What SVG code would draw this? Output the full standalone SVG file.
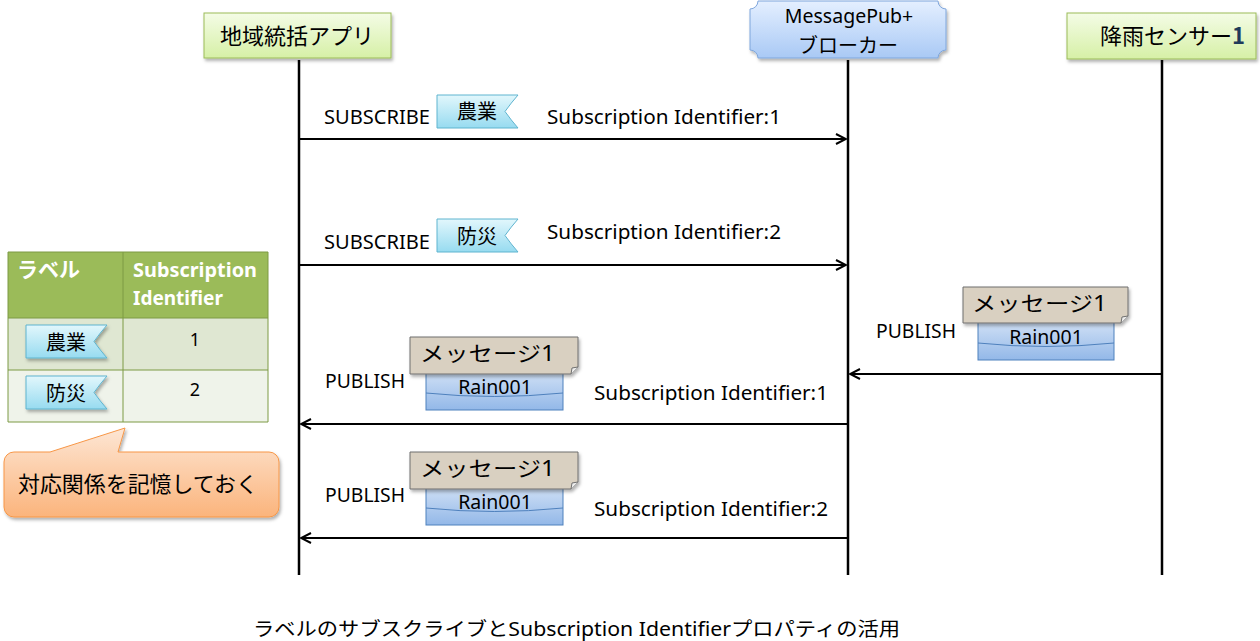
<svg xmlns="http://www.w3.org/2000/svg" width="1260" height="641" viewBox="0 0 1260 641">
<defs>
  <linearGradient id="gGreen" x1="0" y1="0" x2="0" y2="1"><stop offset="0" stop-color="#f4fce6"/><stop offset="1" stop-color="#d6f0a6"/></linearGradient>
  <linearGradient id="gBlue" x1="0" y1="0" x2="0" y2="1"><stop offset="0" stop-color="#e4efff"/><stop offset="1" stop-color="#a9c9f5"/></linearGradient>
  <linearGradient id="gTag" x1="0" y1="0" x2="0" y2="1"><stop offset="0" stop-color="#e2f7fc"/><stop offset="1" stop-color="#97dbf0"/></linearGradient>
  <linearGradient id="gMsg" x1="0" y1="0" x2="0" y2="1"><stop offset="0" stop-color="#d3e2f6"/><stop offset="1" stop-color="#93b8e8"/></linearGradient>
  <linearGradient id="gOrange" x1="0" y1="0" x2="0" y2="1"><stop offset="0" stop-color="#fde6d4"/><stop offset="1" stop-color="#fbb47c"/></linearGradient>
  <filter id="sh" x="-10%" y="-10%" width="120%" height="140%"><feDropShadow dx="1.5" dy="2.5" stdDeviation="1.5" flood-color="#000" flood-opacity="0.3"/></filter>
  <marker id="ah" viewBox="0 0 12 12" refX="11" refY="6" markerWidth="12" markerHeight="12" markerUnits="userSpaceOnUse" orient="auto">
    <path d="M1,1 L11,6 L1,11" fill="none" stroke="#000" stroke-width="2"/>
  </marker>
  <g id="tagShape"><path d="M0,0 H81 Q74,8 68,16.5 Q74,25 81,33 H0 Z" fill="url(#gTag)" stroke="#5fb4cf" stroke-width="1"/></g>
</defs>
<style>
  text{font-family:"Noto Sans","Noto Sans CJK JP",sans-serif;fill:#000}
  .jp{font-family:"Noto Sans CJK JP",sans-serif}
  .life{stroke:#000;stroke-width:2.5}
  .conn{stroke:#000;stroke-width:2.2;fill:none}
  .lbl{font-size:19px}
  .msgtop{fill:#d9d0c1;stroke:#6f6f6f;stroke-width:1}
  .msgbot{fill:url(#gMsg);stroke:#4f81bd;stroke-width:1}
  .wh{fill:#fff}
</style>
<rect width="1260" height="641" fill="#fff"/>

<g id="lifelines">
  <line class="life" x1="299" y1="60" x2="299" y2="575"/>
  <line class="life" x1="848" y1="60" x2="848" y2="575"/>
  <line class="life" x1="1162" y1="60" x2="1162" y2="575"/>
</g>

<g id="node-app">
  <rect x="204" y="13" width="187" height="45" fill="url(#gGreen)" stroke="#9bbb59" stroke-width="1" filter="url(#sh)"/>
  <text class="jp" x="297" y="44" font-size="22" text-anchor="middle">地域統括アプリ</text>
</g>
<g id="node-broker">
  <path d="M758,1 H938 A8,8 0 0 0 946,9 V50 A8,8 0 0 0 938,58 H758 A8,8 0 0 0 750,50 V9 A8,8 0 0 0 758,1 Z" fill="url(#gBlue)" stroke="#7fa6dc" stroke-width="1" filter="url(#sh)"/>
  <text x="849" y="23" font-size="19.5" text-anchor="middle">MessagePub+</text>
  <text class="jp" x="848" y="53" font-size="20" text-anchor="middle">ブローカー</text>
</g>
<g id="node-sensor">
  <rect x="1067" y="13" width="189" height="46" fill="url(#gGreen)" stroke="#9bbb59" stroke-width="1" filter="url(#sh)"/>
  <text class="jp" x="1100" y="44" font-size="22">降雨センサー<tspan font-weight="bold" fill="#1f3a5a">1</tspan></text>
</g>

<g id="connectors">
  <line class="conn" x1="299" y1="139" x2="846" y2="139" marker-end="url(#ah)"/>
  <line class="conn" x1="299" y1="265" x2="846" y2="265" marker-end="url(#ah)"/>
  <line class="conn" x1="1162" y1="374" x2="850" y2="374" marker-end="url(#ah)"/>
  <line class="conn" x1="848" y1="424" x2="301" y2="424" marker-end="url(#ah)"/>
  <line class="conn" x1="848" y1="538" x2="301" y2="538" marker-end="url(#ah)"/>
</g>

<g id="msg-sub1">
  <text class="lbl" x="324" y="124" textLength="106" lengthAdjust="spacingAndGlyphs">SUBSCRIBE</text>
  <use href="#tagShape" x="437" y="95"/>
  <text class="jp" x="477" y="119" font-size="20" text-anchor="middle">農業</text>
  <text class="lbl" x="547" y="124" textLength="234" lengthAdjust="spacingAndGlyphs">Subscription Identifier:1</text>
</g>
<g id="msg-sub2">
  <text class="lbl" x="324" y="249" textLength="106" lengthAdjust="spacingAndGlyphs">SUBSCRIBE</text>
  <use href="#tagShape" x="437" y="219"/>
  <text class="jp" x="477" y="244" font-size="20" text-anchor="middle">防災</text>
  <text class="lbl" x="547" y="239" textLength="234" lengthAdjust="spacingAndGlyphs">Subscription Identifier:2</text>
</g>

<g id="msg-pub-sensor">
  <text class="lbl" x="876" y="338" textLength="80" lengthAdjust="spacingAndGlyphs">PUBLISH</text>
  <rect class="msgbot" x="978" y="320" width="136" height="40"/>
  <path d="M978,343 Q1046,350 1114,343" fill="none" stroke="#4f81bd" stroke-width="1"/>
  <text x="1046" y="344" font-size="19.5" text-anchor="middle">Rain001</text>
  <path class="msgtop" d="M963,287 H1128 V316 L1121,323 H963 Z" filter="url(#sh)"/>
  <path d="M1121,323 L1122,317 L1128,316" fill="#eee" stroke="#6f6f6f" stroke-width="1"/>
  <text class="jp" x="972" y="311" font-size="21" textLength="135" lengthAdjust="spacingAndGlyphs">メッセージ<tspan font-family="Noto Sans">1</tspan></text>
</g>

<g id="msg-pub1">
  <text class="lbl" x="325" y="388" textLength="80" lengthAdjust="spacingAndGlyphs">PUBLISH</text>
  <rect class="msgbot" x="426" y="370" width="137" height="40"/>
  <path d="M426,393 Q494,400 563,393" fill="none" stroke="#4f81bd" stroke-width="1"/>
  <text x="495" y="394" font-size="19.5" text-anchor="middle">Rain001</text>
  <path class="msgtop" d="M410,337 H578 V367 L571,374 H410 Z" filter="url(#sh)"/>
  <path d="M571,374 L572,368 L578,367" fill="#eee" stroke="#6f6f6f" stroke-width="1"/>
  <text class="jp" x="420" y="361" font-size="21" textLength="135" lengthAdjust="spacingAndGlyphs">メッセージ<tspan font-family="Noto Sans">1</tspan></text>
  <text class="lbl" x="594" y="400" textLength="234" lengthAdjust="spacingAndGlyphs">Subscription Identifier:1</text>
</g>

<g id="msg-pub2">
  <text class="lbl" x="325" y="502" textLength="80" lengthAdjust="spacingAndGlyphs">PUBLISH</text>
  <rect class="msgbot" x="426" y="485" width="137" height="40"/>
  <path d="M426,508 Q494,515 563,508" fill="none" stroke="#4f81bd" stroke-width="1"/>
  <text x="495" y="509" font-size="19.5" text-anchor="middle">Rain001</text>
  <path class="msgtop" d="M410,452 H578 V482 L571,489 H410 Z" filter="url(#sh)"/>
  <path d="M571,489 L572,483 L578,482" fill="#eee" stroke="#6f6f6f" stroke-width="1"/>
  <text class="jp" x="420" y="476" font-size="21" textLength="135" lengthAdjust="spacingAndGlyphs">メッセージ<tspan font-family="Noto Sans">1</tspan></text>
  <text class="lbl" x="594" y="516" textLength="234" lengthAdjust="spacingAndGlyphs">Subscription Identifier:2</text>
</g>

<g id="table">
  <rect x="8" y="252" width="260" height="66" fill="#9bbb59"/>
  <rect x="8" y="318" width="260" height="52" fill="#dfe7d2"/>
  <rect x="8" y="370" width="260" height="52" fill="#eff3ea"/>
  <g stroke="#7c9a44" stroke-width="1" fill="none">
    <line x1="8" y1="252" x2="268" y2="252"/>
    <line x1="8" y1="318" x2="268" y2="318"/>
    <line x1="8" y1="370" x2="268" y2="370"/>
    <line x1="8" y1="422" x2="268" y2="422"/>
    <line x1="8" y1="252" x2="8" y2="422"/>
    <line x1="123" y1="252" x2="123" y2="422"/>
    <line x1="268" y1="252" x2="268" y2="422"/>
  </g>
  <text class="jp wh" x="17" y="277" font-size="21" font-weight="bold">ラベル</text>
  <text class="wh" x="133" y="277" font-size="19" font-weight="bold" textLength="124" lengthAdjust="spacingAndGlyphs">Subscription</text>
  <text class="wh" x="133" y="305" font-size="19" font-weight="bold">Identifier</text>
  <use href="#tagShape" x="26" y="325" filter="url(#sh)"/>
  <text class="jp" x="66" y="350" font-size="20" text-anchor="middle">農業</text>
  <use href="#tagShape" x="26" y="376" filter="url(#sh)"/>
  <text class="jp" x="66" y="401" font-size="20" text-anchor="middle">防災</text>
  <text x="195" y="346" font-size="18" text-anchor="middle">1</text>
  <text x="195" y="396" font-size="18" text-anchor="middle">2</text>
</g>

<g id="callout">
  <path d="M14,452 H50 L125,428 L118,452 H269 A10,10 0 0 1 279,462 V507 A10,10 0 0 1 269,517 H14 A10,10 0 0 1 4,507 V462 A10,10 0 0 1 14,452 Z" fill="url(#gOrange)" stroke="#f79646" stroke-width="1" filter="url(#sh)"/>
  <text class="jp" x="18" y="492" font-size="22" textLength="240" lengthAdjust="spacingAndGlyphs">対応関係を記憶しておく</text>
</g>

<g id="caption">
  <text class="jp" x="253" y="636" font-size="19" textLength="647" lengthAdjust="spacingAndGlyphs">ラベルのサブスクライブと<tspan font-family="Noto Sans">Subscription Identifier</tspan>プロパティの活用</text>
</g>
</svg>
